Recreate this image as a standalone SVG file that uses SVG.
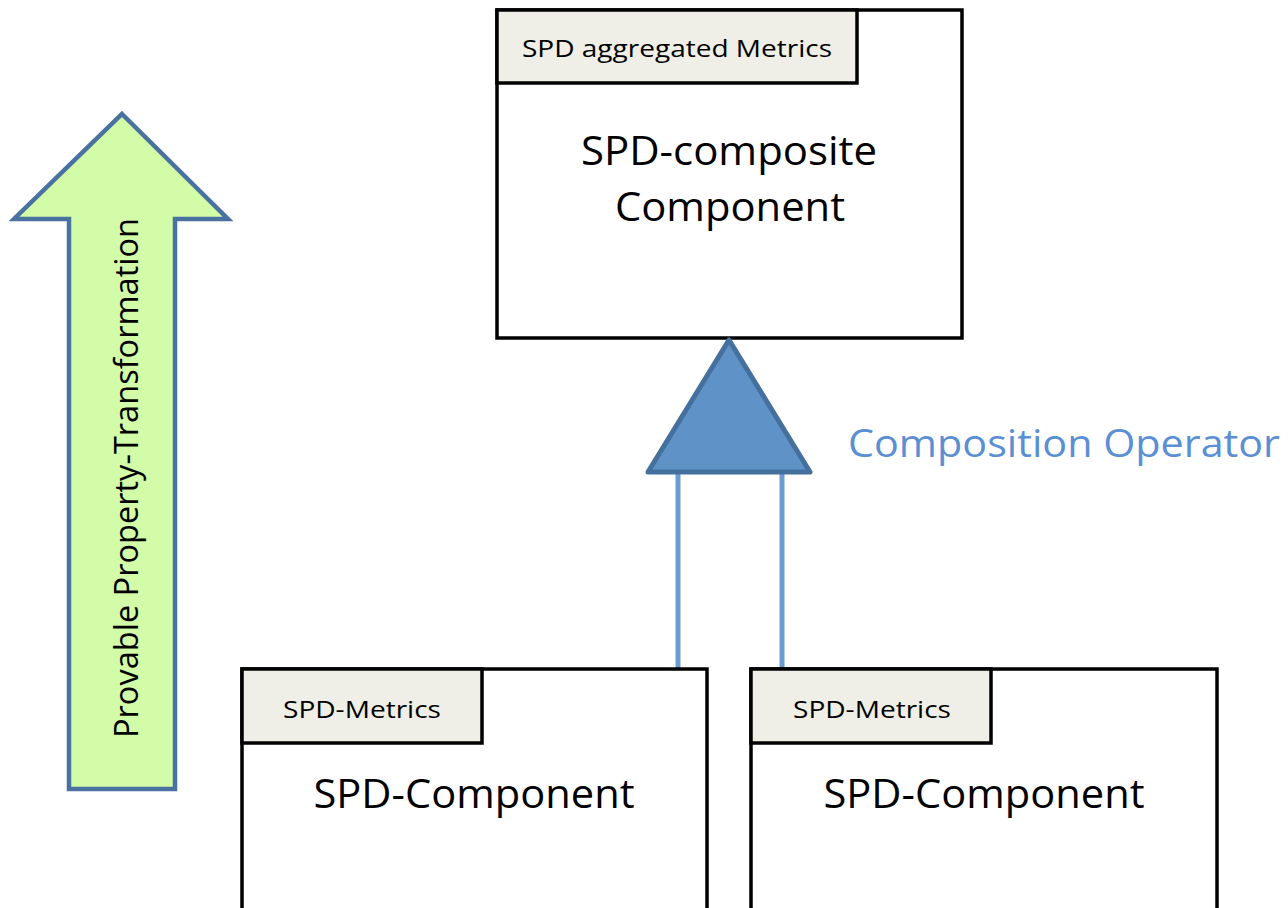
<svg xmlns="http://www.w3.org/2000/svg" width="1288" height="908" viewBox="0 0 1288 908">
  <style>
    .box { fill: #ffffff; stroke: #000000; stroke-width: 3.5; }
    .tab { fill: #efefe7; stroke: #000000; stroke-width: 3.5; }
    .t { font-family: "Open Sans", "Liberation Sans", sans-serif; fill: #000000; text-anchor: middle; }
    .link { stroke: #6a9bd3; stroke-width: 5; fill: none; }
  </style>

  <!-- upward transformation arrow -->
  <g id="transformation-arrow">
    <polygon points="122,114 228,219 175,219 175,789 69,789 69,219 14,219" fill="#d3fca8" stroke="#4a72a0" stroke-width="4.5" stroke-linejoin="miter"/>
    <text class="t" transform="translate(138,478) rotate(-90)" font-size="32" textLength="520" lengthAdjust="spacingAndGlyphs">Provable Property-Transformation</text>
  </g>

  <!-- composite component -->
  <g id="composite">
    <rect class="box" x="497" y="10" width="465" height="328"/>
    <rect class="tab" x="497" y="10" width="360" height="73"/>
    <text class="t" x="677" y="57" font-size="24" textLength="310" lengthAdjust="spacingAndGlyphs">SPD aggregated Metrics</text>
    <text class="t" x="729" y="165" font-size="40" textLength="296" lengthAdjust="spacingAndGlyphs">SPD-composite</text>
    <text class="t" x="730" y="221" font-size="40" textLength="230" lengthAdjust="spacingAndGlyphs">Component</text>
  </g>

  <!-- connectors -->
  <g id="connectors">
    <line class="link" x1="678" y1="473" x2="678" y2="669"/>
    <line class="link" x1="782" y1="473" x2="782" y2="669"/>
  </g>

  <!-- composition operator -->
  <g id="operator">
    <polygon points="729,340 810,472 648,472" fill="#5f93c8" stroke="#45709e" stroke-width="5" stroke-linejoin="round"/>
    <text x="848" y="457" font-family="Open Sans, Liberation Sans, sans-serif" font-size="38" fill="#5b8fd4" textLength="432" lengthAdjust="spacingAndGlyphs">Composition Operator</text>
  </g>

  <!-- left component -->
  <g id="component-left">
    <rect class="box" x="242" y="669" width="465" height="260"/>
    <rect class="tab" x="242" y="669" width="240" height="74"/>
    <text class="t" x="362" y="718" font-size="24" textLength="158" lengthAdjust="spacingAndGlyphs">SPD-Metrics</text>
    <text class="t" x="474" y="808" font-size="40" textLength="321" lengthAdjust="spacingAndGlyphs">SPD-Component</text>
  </g>

  <!-- right component -->
  <g id="component-right">
    <rect class="box" x="751" y="669" width="466" height="260"/>
    <rect class="tab" x="751" y="669" width="240" height="74"/>
    <text class="t" x="872" y="718" font-size="24" textLength="158" lengthAdjust="spacingAndGlyphs">SPD-Metrics</text>
    <text class="t" x="984" y="808" font-size="40" textLength="321" lengthAdjust="spacingAndGlyphs">SPD-Component</text>
  </g>
</svg>
